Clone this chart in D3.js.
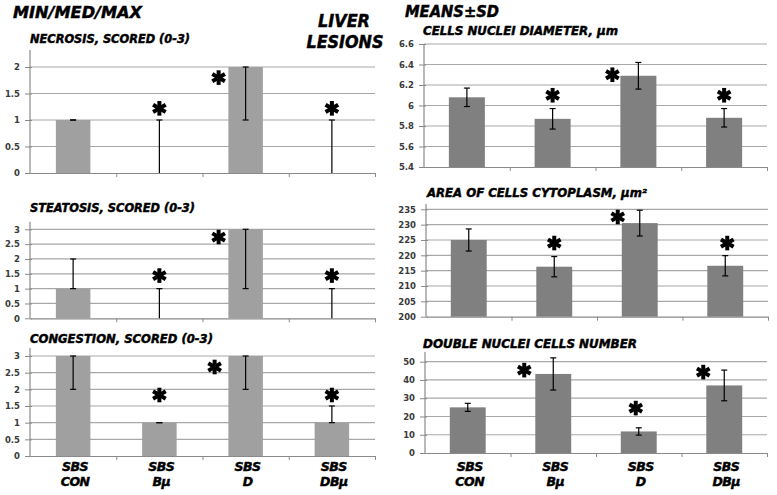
<!DOCTYPE html>
<html>
<head>
<meta charset="utf-8">
<script src="https://cdn.jsdelivr.net/npm/d3@7"></script>
<style>
  html, body { margin: 0; padding: 0; background: #fff; }
  svg { display: block; }
  .hdr { font-family: "DejaVu Sans", Verdana, sans-serif; font-weight: bold; font-style: italic; fill: #000; stroke: #000; stroke-width: 0.45px; }
  .tick text { font-family: "DejaVu Sans", Verdana, sans-serif; font-weight: bold; fill: #3a3a3a; }
</style>
</head>
<body>
<svg id="chart" width="777" height="495"></svg>
<script>
// ---------------- DATA ----------------
const catLine1 = ["SBS", "SBS", "SBS", "SBS"];
const catLine2 = ["CON", "Bμ", "D", "DBμ"];
const categories = catLine2.map((c, i) => catLine1[i] + " " + c);

// Left column: median with min/max whiskers
const necrosisMed = [1, 0, 2, 0];
const necrosisMin = [1, 0, 1, 0];
const necrosisMax = [1, 1, 2, 1];
const necrosisTicks = [0, 0.5, 1, 1.5, 2];
const necrosisStar = [null, 1.22, 1.8, 1.22];

const steatosisMed = [1, 0, 3, 0];
const steatosisMin = [1, 0, 1, 0];
const steatosisMax = [2, 1, 3, 1];
const steatosisTicks = [0, 0.5, 1, 1.5, 2, 2.5, 3];
const steatosisStar = [null, 1.44, 2.74, 1.44];

const congestionMed = [3, 1, 3, 1];
const congestionMin = [2, 1, 2, 1];
const congestionMax = [3, 1, 3, 1.5];
const congestionTicks = [0, 0.5, 1, 1.5, 2, 2.5, 3];
const congestionStar = [null, 1.83, 2.67, 1.83];

// Right column: mean ± SD
const nucleiMean = [6.08, 5.87, 6.29, 5.88];
const nucleiSD = [0.09, 0.10, 0.13, 0.09];
const nucleiTicks = [5.4, 5.6, 5.8, 6, 6.2, 6.4, 6.6];
const nucleiStar = [null, 6.10, 6.30, 6.10];

const areaMean = [225, 216.3, 230.5, 216.6];
const areaSD = [3.6, 3.3, 4.2, 3.3];
const areaTicks = [200, 205, 210, 215, 220, 225, 230, 235];
const areaStar = [null, 224.0, 232.5, 224.0];

const doubleMean = [25, 43.3, 11.8, 37];
const doubleSD = [2.2, 8.8, 2.0, 8.4];
const doubleTicks = [0, 10, 20, 30, 40, 50];
const doubleStar = [null, 45.4, 24.6, 44.3];

// ---------------- LAYOUT ----------------
const svg = d3.select("#chart");

const panels = [
  { title: "NECROSIS, SCORED (0-3)", tx: 30, ty: 43, tw: 160,
    x0: 30, x1: 375, yBottom: 173, yTop: 67, axisTop: 50, pad: 0.6,
    fill: "#a0a0a0", vals: necrosisMed, lo: necrosisMin, hi: necrosisMax,
    ticks: necrosisTicks, star: necrosisStar, starDx: [0, 0, -27, 0], xlabels: false },
  { title: "STEATOSIS, SCORED (0-3)", tx: 30, ty: 212, tw: 165,
    x0: 30, x1: 375, yBottom: 318.3, yTop: 229.3, axisTop: 221.7, pad: 0.6,
    fill: "#a0a0a0", vals: steatosisMed, lo: steatosisMin, hi: steatosisMax,
    ticks: steatosisTicks, star: steatosisStar, starDx: [0, 0, -27, 0], xlabels: false },
  { title: "CONGESTION, SCORED (0-3)", tx: 30, ty: 343, tw: 183,
    x0: 30, x1: 375, yBottom: 456, yTop: 356, axisTop: 348, pad: 0.6,
    fill: "#a0a0a0", vals: congestionMed, lo: congestionMin, hi: congestionMax,
    ticks: congestionTicks, star: congestionStar, starDx: [0, 0, -31, 0], xlabels: true },
  { title: "CELLS NUCLEI DIAMETER, µm", tx: 423, ty: 35, tw: 195,
    x0: 424, x1: 767, yBottom: 167, yTop: 44, axisTop: 44, pad: 0.58,
    fill: "#808080", vals: nucleiMean, lo: nucleiMean.map((m, i) => m - nucleiSD[i]), hi: nucleiMean.map((m, i) => m + nucleiSD[i]),
    ticks: nucleiTicks, star: nucleiStar, starDx: [0, 0, -26, 0], xlabels: false },
  { title: "AREA OF CELLS CYTOPLASM, µm²", tx: 427, ty: 197, tw: 220,
    x0: 426, x1: 768, yBottom: 316.7, yTop: 209.3, axisTop: 204, pad: 0.58,
    fill: "#808080", vals: areaMean, lo: areaMean.map((m, i) => m - areaSD[i]), hi: areaMean.map((m, i) => m + areaSD[i]),
    ticks: areaTicks, star: areaStar, starDx: [0, 0, -22, 2], xlabels: false },
  { title: "DOUBLE NUCLEI CELLS NUMBER", tx: 423, ty: 348, tw: 214,
    x0: 425, x1: 767, yBottom: 453, yTop: 361.7, axisTop: 352, pad: 0.58,
    fill: "#808080", vals: doubleMean, lo: doubleMean.map((m, i) => m - doubleSD[i]), hi: doubleMean.map((m, i) => m + doubleSD[i]),
    ticks: doubleTicks, star: doubleStar, starDx: [0, -29, -3, -21], xlabels: true }
];

// headers
svg.append("text").attr("class", "hdr").attr("x", 13).attr("y", 18)
  .attr("font-size", 15).attr("textLength", 129).attr("lengthAdjust", "spacingAndGlyphs").text("MIN/MED/MAX");
svg.append("text").attr("class", "hdr").attr("x", 405).attr("y", 17)
  .attr("font-size", 15).attr("textLength", 94).attr("lengthAdjust", "spacingAndGlyphs").text("MEANS±SD");
svg.append("text").attr("class", "hdr").attr("x", 344).attr("y", 26.5).attr("text-anchor", "middle")
  .attr("font-size", 17).attr("textLength", 52).attr("lengthAdjust", "spacingAndGlyphs").text("LIVER");
svg.append("text").attr("class", "hdr").attr("x", 345).attr("y", 47.5).attr("text-anchor", "middle")
  .attr("font-size", 17).attr("textLength", 77).attr("lengthAdjust", "spacingAndGlyphs").text("LESIONS");

function drawStar(g, cx, cy) {
  const r = 7.3;
  [90, 30, -30].forEach(a => {
    const rad = a * Math.PI / 180;
    g.append("line")
      .attr("x1", cx - r * Math.cos(rad)).attr("y1", cy - r * Math.sin(rad))
      .attr("x2", cx + r * Math.cos(rad)).attr("y2", cy + r * Math.sin(rad))
      .attr("stroke", "#000").attr("stroke-width", 4).attr("stroke-linecap", "butt");
  });
  g.append("circle").attr("cx", cx).attr("cy", cy).attr("r", 2.8).attr("fill", "#000");
}

panels.forEach(p => {
  const g = svg.append("g");
  const x = d3.scaleBand().domain(categories).range([p.x0, p.x1])
    .paddingInner(p.pad).paddingOuter(p.pad / 2);
  const y = d3.scaleLinear().domain([p.ticks[0], p.ticks[p.ticks.length - 1]]).range([p.yBottom, p.yTop]);

  // title
  g.append("text").attr("class", "hdr").attr("x", p.tx).attr("y", p.ty)
    .attr("font-size", 11.5).attr("textLength", p.tw).attr("lengthAdjust", "spacingAndGlyphs").text(p.title);

  // gridlines
  g.selectAll("line.grid").data(p.ticks.slice(1)).join("line").attr("class", "grid")
    .attr("x1", p.x0).attr("x2", p.x1).attr("y1", d => y(d)).attr("y2", d => y(d))
    .attr("stroke", "#a8a8a8").attr("stroke-width", 1.2);

  // y axis
  const ya = g.append("g").attr("transform", `translate(${p.x0},0)`)
    .call(d3.axisLeft(y).tickValues(p.ticks).tickSizeInner(5).tickSizeOuter(0).tickPadding(5)
      .tickFormat(d3.format("~g")));
  ya.select(".domain").remove();
  ya.selectAll(".tick line").attr("stroke", "#8a8a8a").attr("x2", 2).attr("x1", -5);
  ya.selectAll(".tick text").attr("font-size", 8.5);
  g.append("line").attr("x1", p.x0).attr("x2", p.x0).attr("y1", p.axisTop).attr("y2", p.yBottom)
    .attr("stroke", "#8a8a8a").attr("stroke-width", 1.2);

  // x axis with boundary ticks
  const xb = d3.scaleLinear().domain([0, categories.length]).range([p.x0, p.x1]);
  const xa = g.append("g").attr("transform", `translate(0,${p.yBottom})`)
    .call(d3.axisBottom(xb).tickValues(d3.range(1, categories.length + 1)).tickSizeInner(4).tickSizeOuter(0).tickFormat(""));
  xa.select(".domain").attr("stroke", "#8a8a8a").attr("stroke-width", 1.2);
  xa.selectAll(".tick line").attr("stroke", "#8a8a8a");

  // bars
  g.selectAll("rect.bar").data(categories).join("rect").attr("class", "bar")
    .attr("x", d => x(d)).attr("width", x.bandwidth())
    .attr("y", (d, i) => y(p.vals[i]))
    .attr("height", (d, i) => y(p.ticks[0]) - y(p.vals[i]))
    .attr("fill", p.fill);

  // error bars
  categories.forEach((c, i) => {
    const cx = x(c) + x.bandwidth() / 2;
    const yl = y(p.lo[i]), yh = y(p.hi[i]);
    g.append("line").attr("x1", cx).attr("x2", cx).attr("y1", yl).attr("y2", yh)
      .attr("stroke", "#000").attr("stroke-width", 1.2);
    [yl, yh].forEach(yy => {
      if (Math.abs(yy - p.yBottom) < 0.5) return;
      g.append("line").attr("x1", cx - 3).attr("x2", cx + 3).attr("y1", yy).attr("y2", yy)
        .attr("stroke", "#000").attr("stroke-width", 1.2);
    });
  });

  // significance stars
  categories.forEach((c, i) => {
    if (p.star[i] == null) return;
    drawStar(g, x(c) + x.bandwidth() / 2 + p.starDx[i], y(p.star[i]));
  });

  // category labels
  if (p.xlabels) {
    categories.forEach((c, i) => {
      const cx = x(c) + x.bandwidth() / 2 + 2;
      g.append("text").attr("class", "hdr").attr("x", cx).attr("y", 470.5).attr("text-anchor", "middle")
        .attr("font-size", 12.5).attr("letter-spacing", -0.5).text(catLine1[i]);
      g.append("text").attr("class", "hdr").attr("x", cx).attr("y", 485.5).attr("text-anchor", "middle")
        .attr("font-size", 12.5).attr("letter-spacing", -0.5).text(catLine2[i]);
    });
  }
});
</script>
</body>
</html>
